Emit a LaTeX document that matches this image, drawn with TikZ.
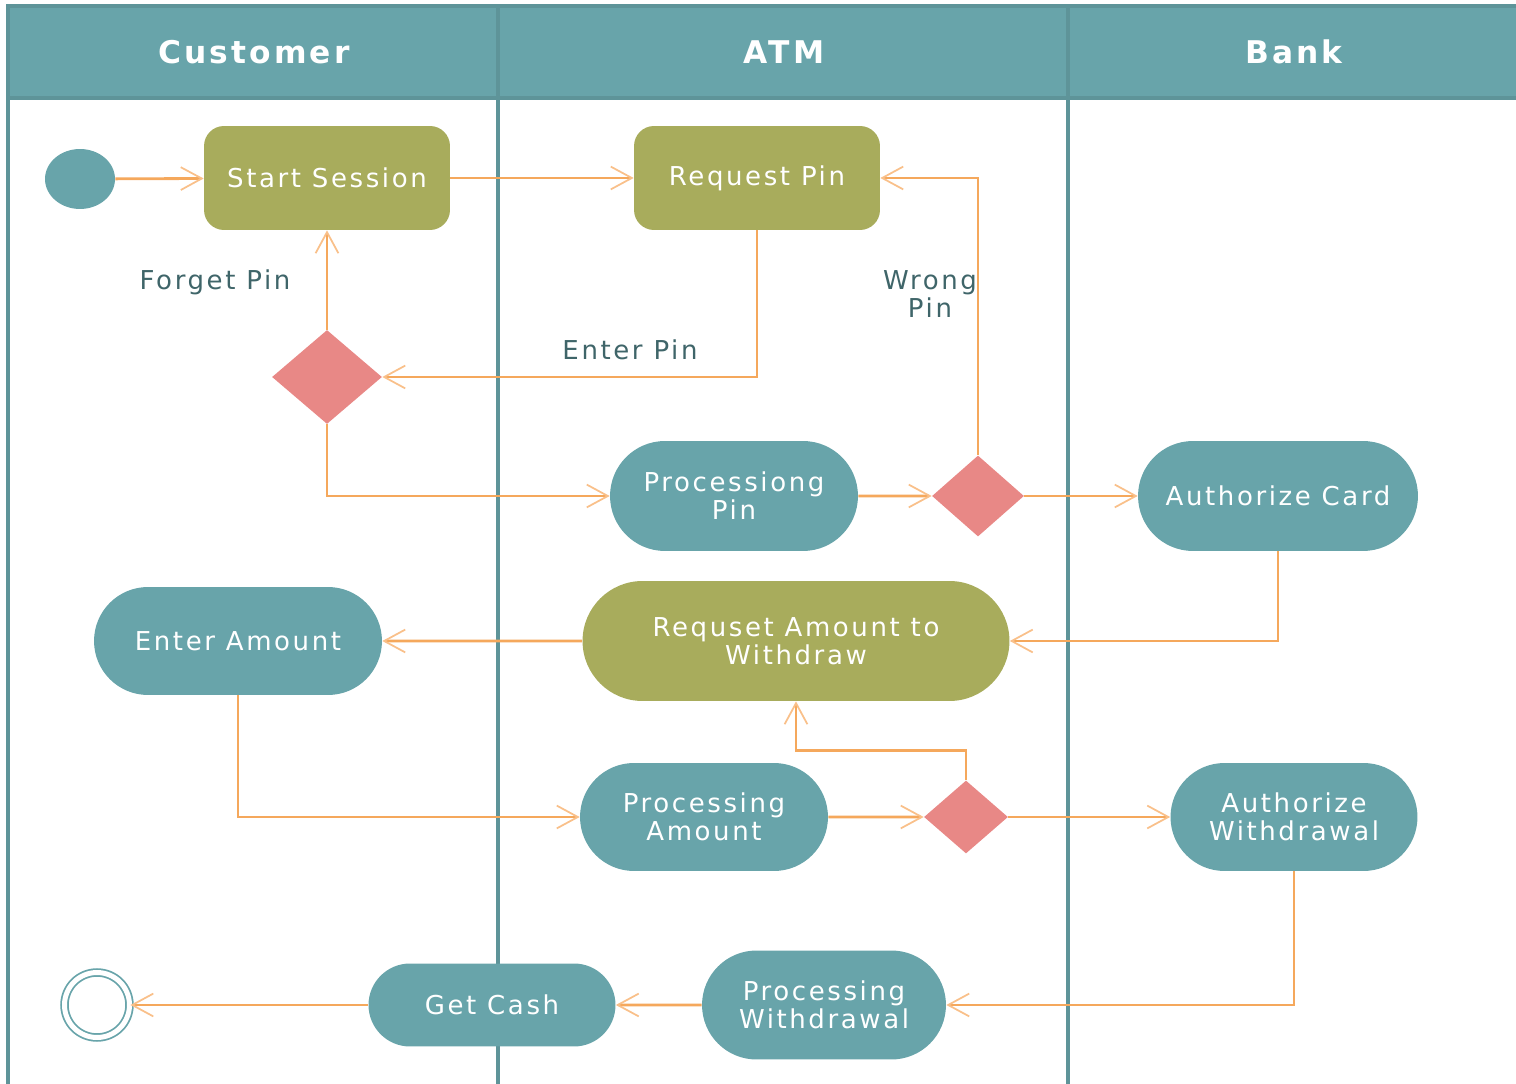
\documentclass[tikz,border=0pt]{standalone}
\usepackage{fontspec}
\setmainfont{DejaVu Sans}[LetterSpace=10]
\usepackage{xcolor}
\usepackage{tikz}
\usetikzlibrary{positioning}
\usetikzlibrary{shapes.geometric}
\usetikzlibrary{shapes.misc}
\usetikzlibrary{arrows.meta}
\definecolor{lanefill}{HTML}{68A4AA}
\definecolor{laneline}{HTML}{5E9499}
\definecolor{olive}{HTML}{A8AC5C}
\definecolor{actfill}{HTML}{68A4AA}
\definecolor{decfill}{HTML}{E88886}
\definecolor{flowc}{HTML}{F5A85C}
\definecolor{tipc}{HTML}{F9C08A}
\definecolor{labc}{HTML}{3F6569}

\begin{document}
\begin{tikzpicture}
  [
    x=0.02cm, y=-0.02cm,
    txt/.style={font=\fontsize{14.8}{16}\selectfont, align=center},
    act/.style={txt, rectangle, rounded corners=0.4cm, fill=olive, text=white,
    minimum width=4.92cm, minimum height=2.08cm},
    pill/.style={txt, rounded rectangle, fill=#1, text=white, inner sep=0pt},
    dec/.style={diamond, fill=decfill, inner sep=0pt},
    lbl/.style={txt, text=labc},
    lane/.style={draw=laneline, line width=2.2pt},
    flow/.style={draw=flowc, line width=1.6pt,
    -{Straight Barb[length=12pt, width=13pt, line width=1pt, color=tipc]}}
  ]
  \useasboundingbox (0,0) rectangle (1516,1084);

  % swimlanes
  \fill [lanefill] (8,6) rectangle (1530,98);
  \draw [lane] (8,1090) -- (8,6) -- (1530,6);
  \draw [lane] (8,98) -- (1530,98);
  \draw [lane] (498,6) -- (498,1090);
  \draw [lane] (1068,6) -- (1068,1090);
  \node (hcust) at ( 254,52) [txt, text=white, font=\bfseries\fontsize{17.8}{20}\selectfont] {Customer};
  \node (hatm)  at ( 784,52) [txt, text=white, font=\bfseries\fontsize{17.8}{20}\selectfont] {ATM};
  \node (hbank) at (1294,52) [txt, text=white, font=\bfseries\fontsize{17.8}{20}\selectfont] {Bank};

  % activities
  \node (start)    at (  80, 179) [ellipse, fill=actfill, minimum width=1.4cm, minimum height=1.2cm] {};
  \node (sess)     at ( 327, 178) [act] {Start Session};
  \node (reqpin)   at ( 757, 178) [act] {Request Pin};
  \node (d1)       at ( 327, 377) [dec, minimum width=2.2cm, minimum height=1.88cm] {};
  \node (procpin)  at ( 734, 496) [pill=actfill, minimum width=4.96cm, minimum height=2.2cm] {Processiong\\Pin};
  \node (d2)       at ( 978, 496) [dec, minimum width=1.84cm, minimum height=1.62cm] {};
  \node (authcard) at (1278, 496) [pill=actfill, minimum width=5.6cm, minimum height=2.2cm] {Authorize Card};
  \node (entamt)   at ( 238, 641) [pill=actfill, minimum width=5.76cm, minimum height=2.16cm] {Enter Amount};
  \node (reqamt)   at ( 796, 641) [pill=olive, minimum width=8.54cm, minimum height=2.4cm] {Requset Amount to\\Withdraw};
  \node (procamt)  at ( 704, 817) [pill=actfill, minimum width=4.96cm, minimum height=2.16cm] {Processing\\Amount};
  \node (d3)       at ( 966, 817) [dec, minimum width=1.68cm, minimum height=1.46cm] {};
  \node (authw)    at (1294, 817) [pill=actfill, minimum width=4.94cm, minimum height=2.16cm] {Authorize\\Withdrawal};
  \node (procw)    at ( 824,1005) [pill=actfill, minimum width=4.88cm, minimum height=2.18cm] {Processing\\Withdrawal};
  \node (getcash)  at ( 492,1005) [pill=actfill, minimum width=4.94cm, minimum height=1.66cm] {Get Cash};
  \node (stop)     at (  97,1005) [circle, draw=actfill, line width=1pt, double=white,
                                   double distance=0.1cm, minimum size=1.3cm] {};

  % guards
  \node (forget)   at ( 215, 282) [lbl] {Forget Pin};
  \node (enterpin) at ( 630, 350) [lbl] {Enter Pin};
  \node (wrong)    at ( 930, 294) [lbl] {Wrong\\Pin};

  % flows
  \draw [flow] (start) -- (sess);
  \draw [flow] (sess) -- (reqpin);
  \draw [flow] (reqpin.south) |- (d1.east);
  \draw [flow] (d1.north) -- (sess.south);
  \draw [flow] (d1.south) |- (procpin.west);
  \draw [flow] (procpin) -- (d2);
  \draw [flow] (d2.north) |- (reqpin.east);
  \draw [flow] (d2) -- (authcard);
  \draw [flow] (authcard.south) |- (reqamt.east);
  \draw [flow] (reqamt) -- (entamt);
  \draw [flow] (entamt.south) |- (procamt.west);
  \draw [flow] (procamt) -- (d3);
  \draw [flow] (d3.north) -- ++(0,-30) -| (reqamt.south);
  \draw [flow] (d3) -- (authw);
  \draw [flow] (authw.south) |- (procw.east);
  \draw [flow] (procw) -- (getcash);
  \draw [flow] (getcash) -- (stop);
\end{tikzpicture}
\end{document}
